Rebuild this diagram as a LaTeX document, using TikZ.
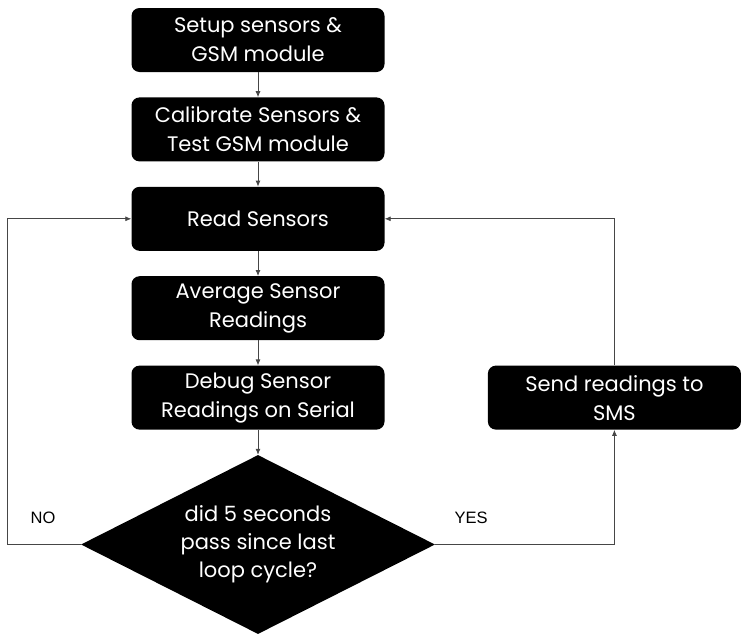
\documentclass[tikz,border=0pt]{standalone}
\usepackage{fontspec}
\setmainfont{Poppins}
\newfontfamily\labelfont{Liberation Sans}
\usetikzlibrary{positioning}
\usetikzlibrary{arrows.meta}
\usetikzlibrary{shapes.geometric}
\definecolor{linegray}{RGB}{70,70,70}

\begin{document}
\begin{tikzpicture}[node distance=25pt,>={Latex[length=6pt,width=5pt]},x=1pt,y=1pt,
  block/.style={rectangle,rounded corners=8pt,fill=black,text=white,minimum width=253pt,minimum height=64pt,inner sep=0pt,align=center,font=\fontsize{21}{29}\selectfont},
  decision/.style={diamond,aspect=2,fill=black,text=white,minimum width=354pt,minimum height=179pt,inner sep=0pt,align=center,font=\fontsize{21}{28}\selectfont},
  line/.style={linegray,line width=0.8pt,->},
  answer/.style={font=\labelfont\fontsize{16.5}{18}\selectfont}]

\useasboundingbox (0,0) rectangle (743,-640);

\node[block] (setup) at (258,-40) {Setup sensors \&\\GSM module};
\node[block,below=of setup] (calib) {Calibrate Sensors \&\\Test GSM module};
\node[block,below=of calib] (read) {Read Sensors};
\node[block,below=of read] (avg) {Average Sensor\\Readings};
\node[block,below=of avg] (debug) {Debug Sensor\\Readings on Serial};
\node[decision,below=of debug] (check) {did 5 seconds\\pass since last\\loop cycle?};
\node[block,right=103pt of debug] (sms) {Send readings to\\SMS};

\draw[line] (setup) -- (calib);
\draw[line] (calib) -- (read);
\draw[line] (read) -- (avg);
\draw[line] (avg) -- (debug);
\draw[line] (debug) -- (check);

% loop back when no
\draw[line] (check.west) -- ++(-73,0) |- (read.west);
\node[answer] (no) at (43,-518) {NO};

% send then loop back
\draw[line] (check.east) -| (sms.south);
\draw[line] (sms.north) |- (read.east);
\node[answer] (yes) at (471,-518) {YES};
\end{tikzpicture}
\end{document}
